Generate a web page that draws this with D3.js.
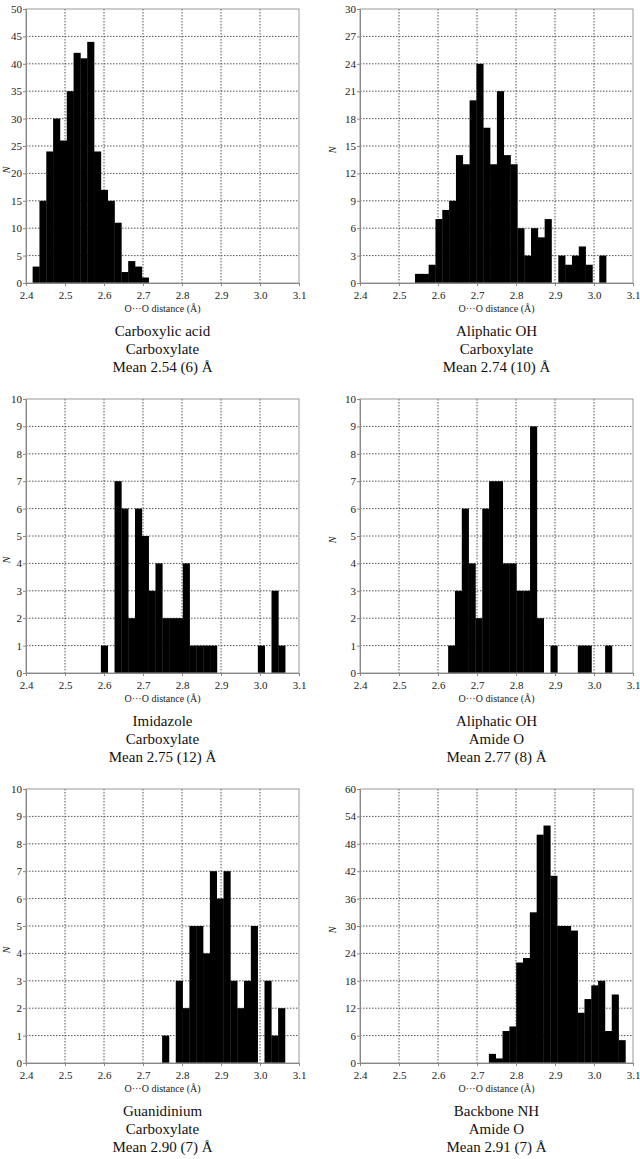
<!DOCTYPE html>
<head>
    <meta charset="utf-8">
    <script src="https://d3js.org/d3.v7.min.js"></script>
    <style>
        body { margin: 0; background: #fff; }
        text { font-family: "Liberation Serif", "Times New Roman", serif; }
    </style>
</head>

<div id="my_dataviz"></div>

<script>
var binWidth = 0.0175;
var xTicks = [2.4, 2.5, 2.6, 2.7, 2.8, 2.9, 3.0, 3.1];

var acidStart = 2.417;
var acidCounts = [3, 15, 24, 30, 26, 35, 42, 41, 44, 24, 17, 15, 11, 2, 4, 3, 1];
var acidTicks = [0, 5, 10, 15, 20, 25, 30, 35, 40, 45, 50];

var aliphStart = 2.541;
var aliphCounts = [1, 1, 2, 7, 8, 9, 14, 13, 20, 24, 17, 13, 21, 14, 13, 6, 3, 6, 5, 7, 0, 3, 2, 3, 4, 2, 0, 3];
var aliphTicks = [0, 3, 6, 9, 12, 15, 18, 21, 24, 27, 30];

var imidStart = 2.592;
var imidCounts = [1, 0, 7, 6, 2, 6, 5, 3, 4, 2, 2, 2, 4, 1, 1, 1, 1, 0, 0, 0, 0, 0, 0, 1, 0, 3, 1];
var imidTicks = [0, 1, 2, 3, 4, 5, 6, 7, 8, 9, 10];

var amideStart = 2.626;
var amideCounts = [1, 3, 6, 4, 2, 6, 7, 7, 4, 4, 3, 3, 9, 2, 0, 1, 0, 0, 0, 1, 1, 0, 0, 1];
var amideTicks = [0, 1, 2, 3, 4, 5, 6, 7, 8, 9, 10];

var guanStart = 2.749;
var guanCounts = [1, 0, 3, 2, 5, 5, 4, 7, 6, 7, 3, 2, 3, 5, 0, 3, 1, 2];
var guanTicks = [0, 1, 2, 3, 4, 5, 6, 7, 8, 9, 10];

var backStart = 2.7305;
var backCounts = [2, 1, 7, 8, 22, 23, 33, 50, 52, 41, 30, 30, 29, 11, 14, 17, 18, 7, 15, 5];
var backTicks = [0, 6, 12, 18, 24, 30, 36, 42, 48, 54, 60];

var captions = [
    ["Carboxylic acid", "Carboxylate", "Mean 2.54 (6) \u00c5"],
    ["Aliphatic OH", "Carboxylate", "Mean 2.74 (10) \u00c5"],
    ["Imidazole", "Carboxylate", "Mean 2.75 (12) \u00c5"],
    ["Aliphatic OH", "Amide O", "Mean 2.77 (8) \u00c5"],
    ["Guanidinium", "Carboxylate", "Mean 2.90 (7) \u00c5"],
    ["Backbone NH", "Amide O", "Mean 2.91 (7) \u00c5"]
];

var panels = [
    { start: acidStart,  counts: acidCounts,  ticks: acidTicks },
    { start: aliphStart, counts: aliphCounts, ticks: aliphTicks },
    { start: imidStart,  counts: imidCounts,  ticks: imidTicks },
    { start: amideStart, counts: amideCounts, ticks: amideTicks },
    { start: guanStart,  counts: guanCounts,  ticks: guanTicks },
    { start: backStart,  counts: backCounts,  ticks: backTicks }
];

var svg = d3.select("#my_dataviz")
    .append("svg")
    .attr("width", 640)
    .attr("height", 1159);

var colLeft = [26, 360],
    plotW = 273,
    plotH = 274,
    rowTop = [9, 399, 789];

panels.forEach(function(p, i) {
    var col = i % 2, row = Math.floor(i / 2);
    var g = svg.append("g")
        .attr("transform", "translate(" + colLeft[col] + "," + rowTop[row] + ")");

    var x = d3.scaleLinear().domain([2.4, 3.1]).range([0, plotW]);
    var y = d3.scaleLinear().domain([0, d3.max(p.ticks)]).range([plotH, 0]);

    // dotted grid
    g.selectAll("vgrid")
        .data(xTicks.slice(1, -1))
        .enter()
        .append("line")
        .attr("x1", function(d) { return x(d) })
        .attr("x2", function(d) { return x(d) })
        .attr("y1", 0)
        .attr("y2", plotH)
        .attr("stroke", "#555")
        .attr("stroke-dasharray", "1.5,1.5");

    g.selectAll("hgrid")
        .data(p.ticks.slice(1, -1))
        .enter()
        .append("line")
        .attr("x1", 0)
        .attr("x2", plotW)
        .attr("y1", function(d) { return y(d) })
        .attr("y2", function(d) { return y(d) })
        .attr("stroke", "#555")
        .attr("stroke-dasharray", "1.5,1.5");

    // bars
    var bw = x(2.4 + binWidth) - x(2.4);
    g.selectAll("bars")
        .data(p.counts)
        .enter()
        .append("rect")
        .attr("x", function(d, k) { return x(p.start + k * binWidth) })
        .attr("y", function(d) { return y(d) })
        .attr("width", bw + 0.3)
        .attr("height", function(d) { return plotH - y(d) })
        .style("fill", "black");

    // frame
    g.append("rect")
        .attr("width", plotW)
        .attr("height", plotH)
        .attr("fill", "none")
        .attr("stroke", "#999");

    var xAxis = g.append("g")
        .attr("transform", "translate(0," + plotH + ")")
        .call(d3.axisBottom(x).tickValues(xTicks).tickFormat(d3.format(".1f")).tickSize(3).tickSizeOuter(0));

    var yAxis = g.append("g")
        .call(d3.axisLeft(y).tickValues(p.ticks).tickSize(3).tickSizeOuter(0));

    [xAxis, yAxis].forEach(function(a) {
        a.select(".domain").attr("stroke", "#888");
        a.selectAll(".tick line").attr("stroke", "#888");
        a.selectAll(".tick text")
            .style("font-family", "Liberation Serif")
            .style("font-size", "11px")
            .attr("fill", "#222");
    });
    xAxis.selectAll(".tick text").attr("dy", "0.9em");
    yAxis.selectAll(".tick text").attr("x", -4);

    // axis titles
    g.append("text")
        .attr("transform", "translate(" + (col == 0 ? -16 : -24) + "," + (plotH / 2 + (col == 0 ? 24 : 4)) + ") rotate(-90)")
        .attr("text-anchor", "middle")
        .style("font-size", "10px")
        .style("font-style", "italic")
        .attr("fill", "#222")
        .text("N");

    g.append("text")
        .attr("x", plotW / 2)
        .attr("y", plotH + 29)
        .attr("text-anchor", "middle")
        .style("font-size", "10px")
        .attr("fill", "#222")
        .text("O\u00b7\u00b7\u00b7O distance (\u00c5)");

    // caption below each panel
    g.selectAll("caption")
        .data(captions[i])
        .enter()
        .append("text")
        .attr("x", plotW / 2)
        .attr("y", function(d, k) { return plotH + 53 + k * 18 })
        .attr("text-anchor", "middle")
        .style("font-size", "15px")
        .attr("fill", "#111")
        .text(function(d) { return d });
});
</script>
